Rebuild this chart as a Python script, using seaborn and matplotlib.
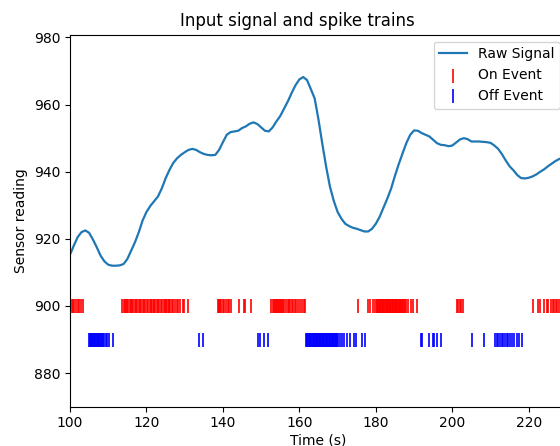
import matplotlib
matplotlib.use("Agg")
import matplotlib.pyplot as plt
import seaborn as sns
import pandas as pd

# Sensor samples, one per second
signal_time = list(range(100, 231))
signal_value = [
    915.3, 918.0, 920.5, 922.0, 922.5, 921.8, 919.8, 917.5, 915.0, 913.3,
    912.3, 912.0, 912.0, 912.1, 912.5, 914.0, 916.5, 919.0, 922.0, 925.5,
    928.0, 929.8, 931.2, 932.6, 935.0, 938.0, 940.5, 942.6, 944.0, 945.0,
    945.8, 946.5, 946.8, 946.5, 945.8, 945.3, 945.0, 944.9, 945.0, 946.5,
    948.8, 951.0, 951.8, 952.0, 952.2, 953.0, 953.5, 954.3, 954.7, 954.2,
    953.2, 952.2, 952.0, 953.2, 955.0, 956.6, 958.8, 961.0, 963.5, 965.8,
    967.5, 968.2, 967.3, 964.6, 961.8, 955.5, 948.3, 941.5, 935.5, 931.3,
    928.0, 926.0, 924.5, 923.8, 923.3, 923.0, 922.6, 922.2, 922.2, 923.0,
    924.5, 926.6, 929.3, 932.0, 935.0, 938.8, 942.3, 945.5, 948.6, 951.0,
    952.3, 952.2, 951.5, 951.0, 950.5, 949.5, 948.5, 948.0, 947.9, 947.6,
    947.8, 948.7, 949.6, 950.0, 949.7, 949.0, 949.0, 949.0, 948.9, 948.8,
    948.6, 947.8, 946.8, 945.2, 943.3, 941.6, 940.4, 939.0, 938.1, 938.0,
    938.2, 938.6, 939.2, 940.0, 940.7, 941.6, 942.4, 943.2, 943.8, 944.3,
    944.7,
]

# Spike times (s)
on_times = [
    100.1, 100.4, 100.8, 101.1, 101.5, 102.0, 102.3, 102.8, 103.5,
    113.7, 114.0, 114.4, 114.7, 115.0, 115.3, 115.7, 116.0, 116.2, 116.5,
    117.0, 117.3, 117.6, 118.0, 118.3, 118.6, 119.0, 119.4, 119.7, 120.1,
    120.4, 120.8, 121.2, 121.5, 121.9, 122.1, 122.3, 122.7, 123.0, 123.4,
    123.7, 124.1, 124.5, 124.9, 125.1, 125.3, 125.8, 126.0, 126.2, 126.6,
    127.0, 127.4, 127.9, 128.3, 128.7, 129.5, 129.8, 130.9,
    138.6, 138.9, 139.1, 139.3, 139.6, 140.0, 140.4, 140.8, 141.2, 141.7,
    142.2,
    144.2, 145.6, 145.9, 147.3,
    152.6, 153.0, 153.3, 153.7, 154.0, 154.2, 154.4, 154.7, 155.0, 155.2,
    155.4, 155.8, 156.1, 156.5, 156.9, 157.2, 157.6, 158.0, 158.4, 158.8,
    159.2, 159.6, 160.1, 160.6, 161.1, 161.5,
    175.4,
    178.0, 178.5, 179.2, 179.8, 180.2, 180.4, 180.6, 180.8, 181.0, 181.2,
    181.4, 181.6, 181.8, 182.0, 182.2, 182.4, 182.6, 182.8, 183.0, 183.2,
    183.4, 183.6, 183.8, 184.0, 184.2, 184.4, 184.6, 184.8, 185.0, 185.2,
    185.4, 185.6, 185.8, 186.0, 186.2, 186.4, 186.6, 186.8, 187.1, 187.4,
    187.6, 187.9, 188.5, 189.2, 189.8, 190.7,
    201.2, 201.6, 202.0, 202.4, 202.9,
    221.2, 222.5, 222.9, 224.1, 224.7, 225.1, 225.7, 226.3, 226.7, 227.1,
    227.5, 228.0, 228.6, 229.2,
]
off_times = [
    105.0, 105.2, 105.4, 105.6, 105.8, 106.0, 106.2, 106.4, 106.6, 106.8,
    107.0, 107.2, 107.4, 107.6, 107.8, 108.0, 108.3, 108.6, 108.9, 109.3,
    109.7, 110.3, 111.3,
    133.8, 134.9,
    149.1, 149.7, 150.7, 151.9,
    161.7, 161.9, 162.1, 162.3, 162.5, 162.7, 162.9, 163.1, 163.3, 163.5,
    163.7, 163.9, 164.1, 164.3, 164.5, 164.7, 164.9, 165.1, 165.3, 165.5,
    165.7, 165.9, 166.1, 166.3, 166.5, 166.7, 166.9, 167.1, 167.3, 167.5,
    167.7, 167.9, 168.1, 168.3, 168.5, 168.7, 168.9, 169.1, 169.3, 169.5,
    169.7, 169.9, 170.2, 170.6,
    171.1, 171.7, 172.4, 173.2, 174.4, 174.8, 176.3, 177.2,
    191.7, 192.2, 194.0, 194.9, 195.3, 195.9, 197.0,
    205.1, 208.4,
    211.2, 211.6, 212.0, 212.5, 212.9, 213.3, 213.8, 214.2, 214.6, 215.1,
    215.5, 216.1, 216.8, 217.4, 218.1,
]
on_level = 900
off_level = 890

signal_df = pd.DataFrame({"time": signal_time, "value": signal_value})
on_df = pd.DataFrame({"time": on_times, "level": [on_level] * len(on_times)})
off_df = pd.DataFrame({"time": off_times, "level": [off_level] * len(off_times)})

fig = plt.figure(figsize=(5.6, 4.46), dpi=100)
ax = fig.add_axes([0.125, 0.0881, 0.8875, 0.834])

sns.lineplot(data=signal_df, x="time", y="value", color="#1f77b4",
             linewidth=1.6, label="Raw Signal", ax=ax)
sns.scatterplot(data=on_df, x="time", y="level", marker="|", s=100,
                color="red", linewidth=1.2, label="On Event", ax=ax)
sns.scatterplot(data=off_df, x="time", y="level", marker="|", s=100,
                color="blue", linewidth=1.2, label="Off Event", ax=ax)

ax.set_xlim(100, 230)
ax.set_ylim(870, 980.8)
ax.set_xticks([100, 120, 140, 160, 180, 200, 220])
ax.set_yticks([880, 900, 920, 940, 960, 980])
ax.set_xlabel("Time (s)", labelpad=2)
ax.set_ylabel("Sensor reading")
ax.set_title("Input signal and spike trains", x=0.457)
ax.legend(loc="upper right")

fig.savefig("out.png", dpi=100)
